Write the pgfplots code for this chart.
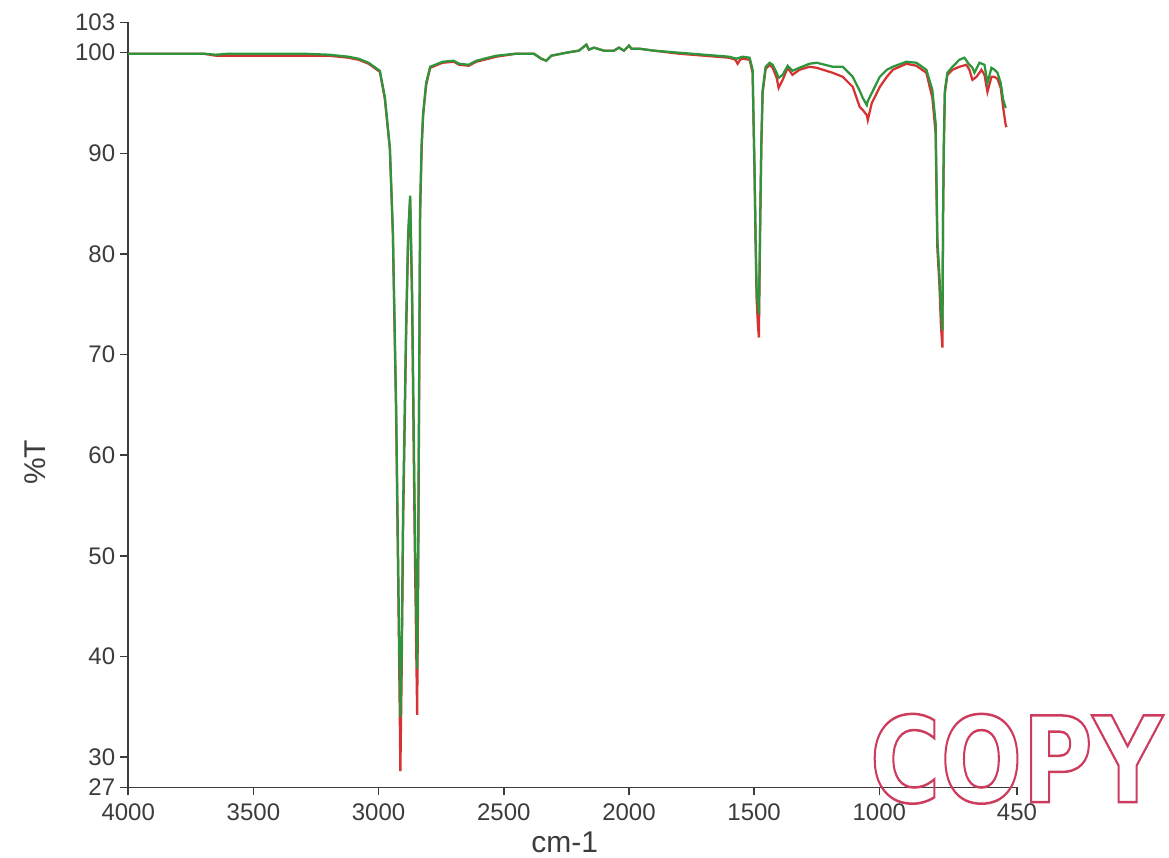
\documentclass[border=0pt]{standalone}
\usepackage{pgfplots}
\pgfplotsset{compat=1.18}
\usepackage{pgfplotstable}
\usepackage{fontspec}
\setmainfont{Liberation Sans}
\newfontfamily\stampfont{DejaVu Sans}
\definecolor{irgreen}{RGB}{45,150,60}
\definecolor{irred}{RGB}{215,50,50}
\definecolor{stamp}{RGB}{205,60,95}
\definecolor{axgray}{RGB}{60,60,60}

\pgfplotstableread{
nu T
4000 99.9
3900 99.9
3800 99.9
3700 99.9
3650 99.7
3600 99.7
3500 99.7
3400 99.7
3300 99.7
3200 99.7
3120 99.5
3080 99.3
3040 98.9
3023 98.6
2995 98.1
2975 95.4
2955 90.4
2943 82.0
2930 64
2918 40
2913 28.6
2908 38
2902 53
2890 72
2882 81.5
2874 85.5
2866 75
2856 52
2846 34.2
2842 47
2838 66
2834 84
2828 90.5
2822 93.8
2810 96.8
2794 98.5
2744 99.0
2700 99.1
2678 98.8
2640 98.7
2610 99.1
2530 99.6
2450 99.9
2380 99.9
2350 99.4
2330 99.2
2310 99.7
2250 100.0
2200 100.2
2170 100.8
2160 100.3
2140 100.5
2100 100.2
2060 100.2
2040 100.5
2020 100.2
2000 100.7
1990 100.4
1960 100.4
1900 100.2
1800 99.9
1700 99.7
1600 99.5
1575 99.3
1566 98.9
1556 99.3
1546 99.4
1518 99.3
1506 98.0
1502 92.8
1498 87.5
1494 81
1490 75.5
1485 73
1481 71.7
1475 84.5
1471 91.0
1466 96.0
1454 98.4
1438 98.8
1426 98.5
1410 97.5
1402 96.5
1386 97.3
1366 98.5
1347 97.8
1319 98.3
1279 98.6
1250 98.5
1186 98.0
1146 97.6
1106 96.6
1078 94.6
1066 94.3
1050 93.8
1046 93.3
1030 95.0
998 96.6
970 97.6
946 98.3
892 98.9
852 98.7
812 98.0
788 95.5
775 92
772 87
768 80.5
760 77
754 73
748 70.7
745 84.5
742 91.0
738 96.0
728 97.8
708 98.3
680 98.6
652 98.8
640 98.3
628 97.3
612 97.6
600 98.0
592 98.3
580 97.8
568 96.1
552 97.6
540 97.6
528 97.4
515 96.5
505 94.5
495 92.8
492 92.6
}\redtable

\pgfplotstableread{
nu T
4000 99.9
3900 99.9
3800 99.9
3700 99.9
3650 99.8
3600 99.9
3500 99.9
3400 99.9
3300 99.9
3200 99.8
3120 99.6
3080 99.4
3040 99.0
3023 98.7
2995 98.2
2975 95.6
2955 90.6
2943 82.3
2930 65
2918 42
2913 34.0
2908 40
2902 55
2890 73
2882 82
2874 85.8
2866 76
2856 55
2846 38.8
2842 50
2838 68
2834 85
2828 91
2822 94
2810 97
2794 98.6
2744 99.1
2700 99.2
2678 98.9
2640 98.8
2610 99.2
2530 99.7
2450 99.9
2380 99.9
2350 99.4
2330 99.2
2310 99.7
2250 100.0
2200 100.2
2170 100.8
2160 100.3
2140 100.5
2100 100.2
2060 100.2
2040 100.5
2020 100.2
2000 100.7
1990 100.4
1960 100.4
1900 100.2
1800 100.0
1700 99.8
1600 99.6
1570 99.4
1546 99.6
1518 99.5
1506 98.3
1502 93
1498 88
1494 81.4
1490 76.5
1485 75
1481 74
1475 84.7
1471 91.3
1466 96.3
1454 98.6
1438 99.0
1426 98.8
1410 98.0
1402 97.5
1386 97.8
1366 98.7
1347 98.2
1319 98.5
1279 98.9
1250 99.0
1186 98.6
1146 98.6
1106 97.6
1078 96.2
1066 95.5
1050 94.8
1046 95.2
1030 96.0
998 97.6
970 98.3
946 98.6
892 99.1
852 99.0
812 98.3
788 96.3
775 93
772 88
768 81.4
760 78
754 74.5
748 72.4
745 84.7
742 91.3
738 96.3
728 98.0
708 98.6
680 99.3
660 99.5
640 98.8
628 98.5
620 98.0
610 98.5
600 99.0
580 98.8
568 97.0
552 98.5
540 98.3
528 98.0
515 97.0
505 95.3
495 94.5
}\greentable

\begin{document}
\begin{tikzpicture}
\useasboundingbox (-51.3pt,-27.9pt) rectangle (416.3pt,314.9pt);
\begin{axis}[
  at={(0,0)}, anchor=south west,
  scale only axis,
  width=355.5pt, height=305.9pt,
  x dir=reverse,
  xmin=450, xmax=4000,
  ymin=27, ymax=103,
  axis x line*=bottom, axis y line*=left,
  axis line style={-, draw=axgray, line width=0.6pt},
  tick align=outside,
  major tick length=3.2pt,
  tick style={draw=axgray, line width=0.6pt},
  xtick={4000,3500,3000,2500,2000,1500,1000,450},
  xticklabels={4000,3500,3000,2500,2000,1500,1000,450},
  ytick={27,30,40,50,60,70,80,90,100,103},
  yticklabels={27,30,40,50,60,70,80,90,100,103},
  ticklabel style={font=\fontsize{9.6}{11}\selectfont, text=axgray},
  yticklabel style={xshift=1.5pt},
  /pgf/number format/assume math mode=true,
  xlabel={cm-1},
  ylabel={\%T},
  label style={font=\fontsize{12}{14}\selectfont, text=axgray},
  xlabel style={at={(axis description cs:0.491,-0.0716)}, anchor=center},
  ylabel style={at={(axis description cs:-0.105,0.425)}, anchor=center},
  clip=false,
]
\addplot[irred, line width=0.9pt] table[x=nu, y=T] {\redtable};
\addplot[irgreen, line width=0.9pt] table[x=nu, y=T] {\greentable};
\end{axis}
\node[anchor=base west, inner sep=0pt, text=stamp, xscale=0.81,
  font=\stampfont\bfseries\fontsize{47.5}{50}\selectfont] at (296.5pt,-5.9pt)
  {\special{pdf:literal direct 1 Tr 1.0 w}COPY\special{pdf:literal direct 0 Tr}};
\end{tikzpicture}
\end{document}
